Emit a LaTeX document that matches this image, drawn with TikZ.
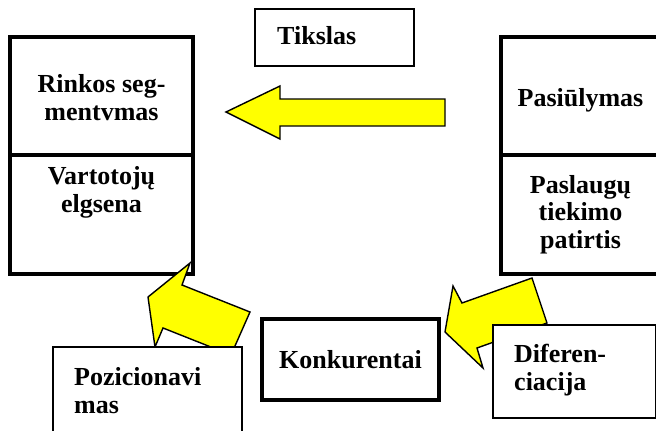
\documentclass[tikz,border=0pt]{standalone}
\usepackage{fontspec}
\setmainfont{Liberation Serif}
\definecolor{blockyellow}{HTML}{FFFF00}
\usetikzlibrary{scopes, calc, positioning}

\tikzset{
	thickbox/.style={draw, line width=3.2pt},
	thinbox/.style={draw, line width=1.6pt, fill=white},
	blockarrow/.style={draw, line width=1.4pt, fill=blockyellow, line join=miter},
	lbl/.style={font=\fontsize{26}{27.5}\selectfont\bfseries, inner sep=0pt, align=center},
}

\begin{document}
\begin{tikzpicture}[x=1pt,y=-1pt]
			\useasboundingbox (0,0) rectangle (656,431);
			
			% large boxes
			\draw[thickbox] (10,37) rectangle (193,274);
			\draw[thickbox] (10,155) -- (193,155);
			\draw[thickbox] (501,37) rectangle (662,274);
			\draw[thickbox] (501,155) -- (662,155);
			\draw[thickbox] (262,319) rectangle (439,400);
			\draw[thinbox] (255,9) rectangle (414,66);
			
			% base = last line
			\node[lbl, anchor=base] (segm) at (101.5,120) {Rinkos seg-\\mentvmas};
			\node[lbl, anchor=base] (vart) at (101.5,212) {Vartotojų\\elgsena};
			\node[lbl, anchor=base] (pasi) at (580.5,106) {Pasiūlymas};
			\node[lbl, anchor=base] (pasl) at (580.5,248) {Paslaugų\\tiekimo\\patirtis};
			\node[lbl, anchor=base] (konk) at (350.5,368) {Konkurentai};
			\node[lbl, anchor=base west] (tiks) at (277,44) {Tikslas};
			
			% block arrows
			\begin{scope}
				\pgfmathsetmacro{\headx}{280}
				\draw[blockarrow] (226,112) -- (\headx,86) -- (\headx,99) -- (445,99)
					-- (445,126) -- (\headx,126) -- (\headx,139) -- cycle;
			\end{scope}
			
			\draw[blockarrow] (148,297) -- (190,263) -- (182,285) -- (250,312)
				-- (231,355) -- (163,328) -- (155,347) -- cycle;
			\draw[blockarrow] (445,332) -- (453,286) -- (462,303) -- (532,278)
				-- (547,323) -- (477,348) -- (483,368) -- cycle;
			
			% small boxes on top
			\draw[thinbox] (53,347) rectangle (242,440);
			\draw[thinbox] (493,325) rectangle (656,418);
			
			\node[lbl, anchor=base west, align=left] (pozi) at (74,413) {Pozicionavi\\mas};
			\node[lbl, anchor=base west, align=left] (dife) at (514,390) {Diferen-\\ciacija};
			
\end{tikzpicture}
\end{document}
